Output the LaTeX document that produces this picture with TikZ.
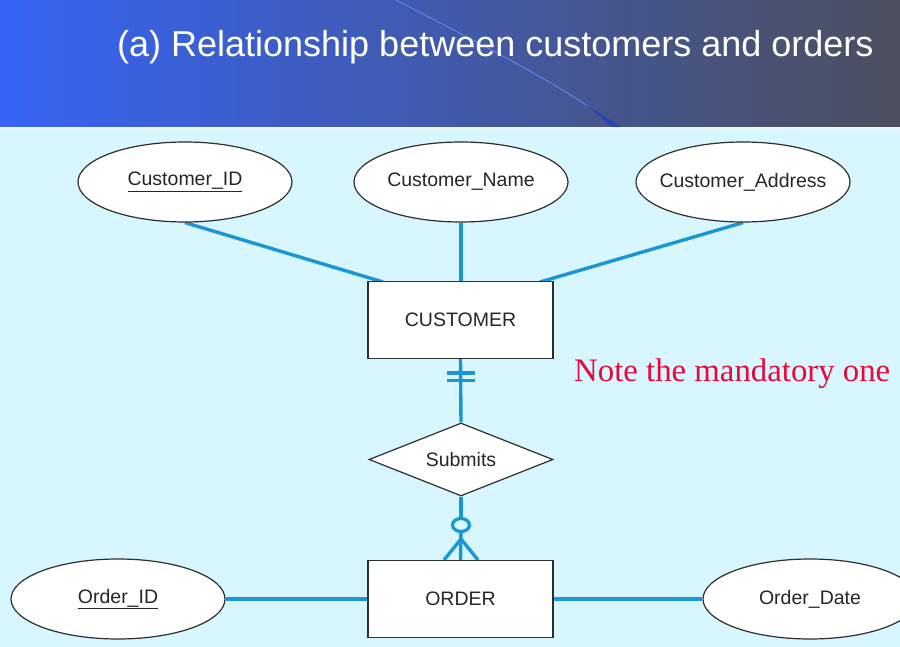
\documentclass[tikz,border=0pt]{standalone}
\usepackage{fontspec}
\setmainfont{Liberation Sans}
\newfontfamily\notefont{Liberation Serif}
\usetikzlibrary{shapes.geometric,backgrounds}
\definecolor{bgcyan}{HTML}{D7F6FD}
\definecolor{erblue}{HTML}{1A96D4}
\definecolor{hdleft}{HTML}{3664F5}
\definecolor{hdright}{HTML}{4C4F5E}
\definecolor{notered}{HTML}{E8083C}
\definecolor{outline}{HTML}{2E2E2E}
\tikzset{
  shapetext/.style={font=\fontsize{19.5}{22}\selectfont, text=black!85},
  attr/.style={ellipse, draw=outline, line width=1.2pt, fill=white, minimum width=214pt, minimum height=80pt, inner xsep=-30pt, inner ysep=0pt, shapetext},
  ent/.style={rectangle, draw=outline, line width=1.2pt, fill=white, minimum width=185pt, minimum height=77pt, inner sep=0pt, shapetext},
  rel/.style={diamond, draw=outline, line width=1.2pt, fill=white, minimum width=184pt, minimum height=73pt, aspect=2.52, inner sep=0pt, shapetext},
  conn/.style={draw=erblue, line width=3.4pt},
}
\begin{document}
\begin{tikzpicture}[x=1pt,y=-1pt]
\useasboundingbox (0,0) rectangle (900,647);
\clip (0,0) rectangle (900,647);
% nodes
\node[attr] (cid) at (185,182) {\underline{Customer\_ID}};
\node[attr] (cname) at (461,182) {Customer\_Name};
\node[attr] (caddr) at (743,182) {Customer\_Address};
\node[ent] (cust) at (460.5,320) {CUSTOMER};
\node[rel] (sub) at (461,459.5) {Submits};
\node[ent] (ord) at (460.5,599) {ORDER};
\node[attr] (oid) at (118,599) {\underline{Order\_ID}};
\node[attr] (odate) at (810,599) {Order\_Date};
\node[anchor=base west, text=notered, font=\notefont\fontsize{32.8}{36}\selectfont, inner sep=0pt] (note) at (574,381) {Note the mandatory one};
\node[anchor=base west, text=white, font=\fontsize{36}{40}\selectfont, inner sep=0pt] (title) at (117,56.5) {(a) Relationship between customers and orders};
\begin{pgfonlayer}{background}
% background
\fill[bgcyan] (0,0) rectangle (900,647);
\shade[left color=hdleft, right color=hdright] (0,0) rectangle (900,127);
\fill[white!60!bgcyan] (0,127) rectangle (900,129.5);
\draw[color=hdleft!75!white, line width=0.8pt] (396,0) .. controls (500,54) and (570,90) .. (617,127);
\fill[hdleft!70!black] (585,104) -- (622,127) -- (612,127) -- cycle;
% connectors
\coordinate (c1) at (383,282);
\coordinate (c3) at (540,282);
\draw[conn] (cid.south) -- (c1);
\draw[conn] (cname.south) -- (cname.south |- cust.north);
\draw[conn] (caddr.south) -- (c3);
\draw[conn] (cust.south) -- (sub.north);
\coordinate (b1l) at (447,373);
\coordinate (b1r) at (475,373);
\coordinate (b2l) at (447,380.5);
\coordinate (b2r) at (475,380.5);
\draw[conn] (b1l) -- (b1r);
\draw[conn] (b2l) -- (b2r);
\coordinate (ctop) at (461,518.5);
\coordinate (cbot) at (461,531.5);
\draw[conn] (sub.south) -- (ctop);
\draw[conn] (cbot) -- (ord.north);
\draw[erblue, line width=3.2pt] (461,525) ellipse [x radius=8.5pt, y radius=6.5pt];
\coordinate (cf) at (461,539);
\coordinate (cfl) at (444,560);
\coordinate (cfr) at (478,560);
\draw[conn] (cf) -- (cfl);
\draw[conn] (cf) -- (cfr);
\draw[conn] (oid.east) -- (ord.west);
\draw[conn] (ord.east) -- (odate.west);
\end{pgfonlayer}
\end{tikzpicture}
\end{document}
